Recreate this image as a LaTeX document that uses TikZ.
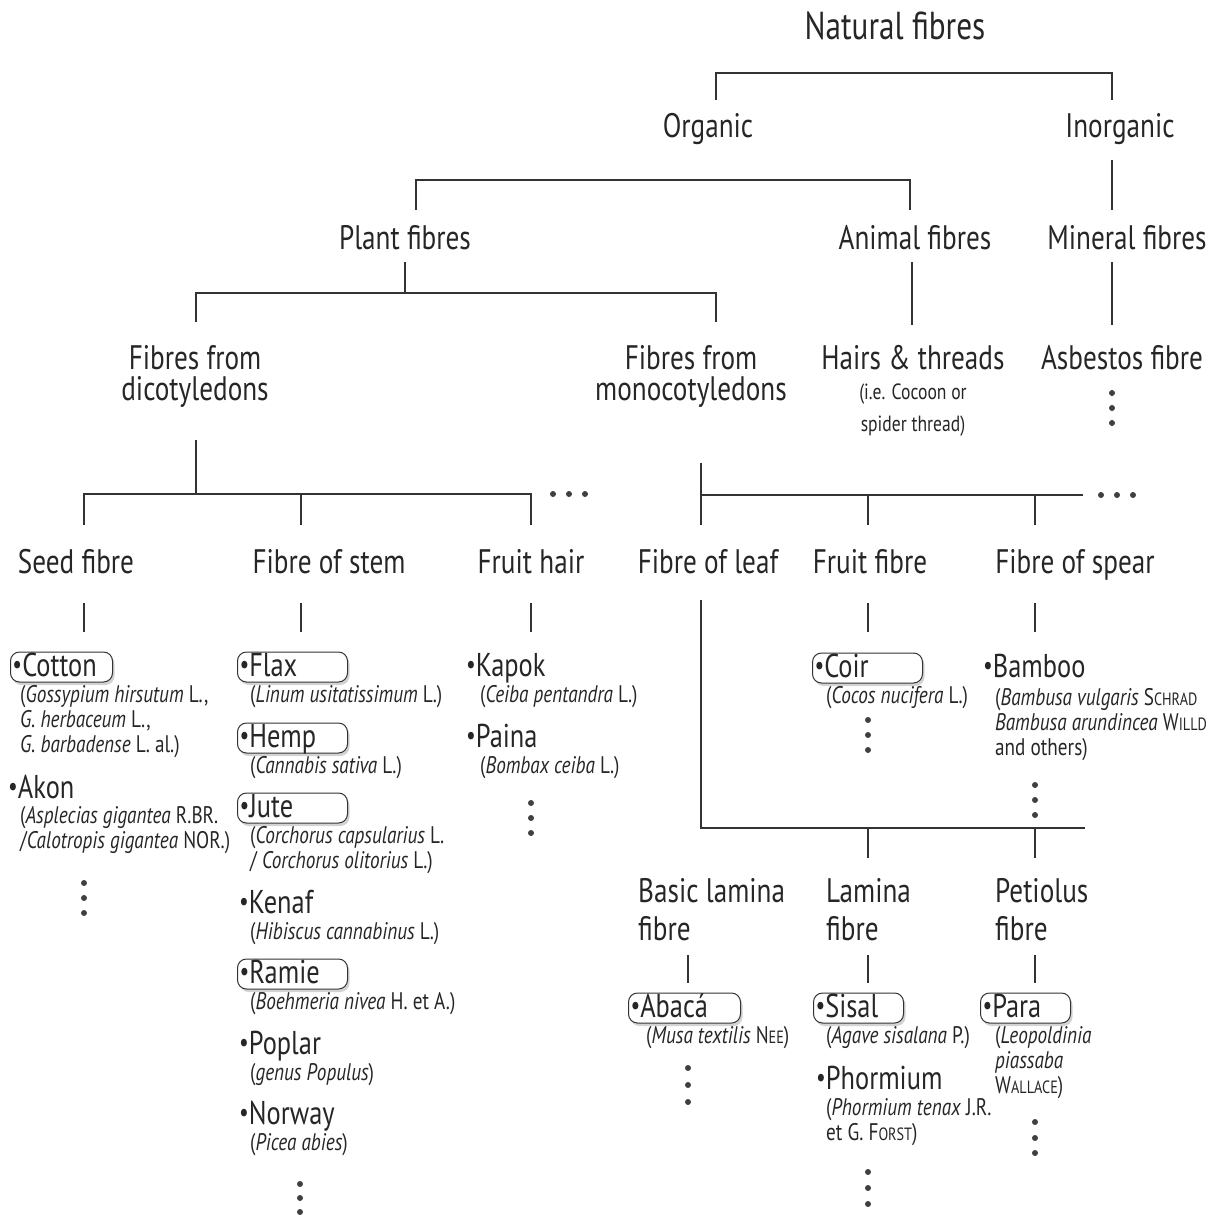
\documentclass[tikz,border=0pt]{standalone}
\usepackage{fontspec}
\setmainfont{PT Sans}[FakeStretch=0.8]
\newfontfamily\capsmall{PT Sans}[FakeStretch=0.8,Scale=0.74]
\usetikzlibrary{shadows}
\newcommand{\fsc}[2]{#1{\capsmall #2}}
\newcommand{\bul}{\raisebox{0.08em}{\fontsize{27}{27}\selectfont\textbullet}}

\begin{document}
\begin{tikzpicture}[x=1pt, y=-1pt,
    branch/.style={line width=2.5pt, draw=black!80},
    lbl/.style={font=\fontsize{34}{31}\selectfont, inner sep=0pt, anchor=base, align=center, text=black!85},
    item/.style={font=\fontsize{33}{36}\selectfont, anchor=west, inner xsep=2pt, inner ysep=1pt,
                 text height=23, text depth=5, text=black!85},
    itembox/.style={item, draw=black!80, line width=1pt, rounded corners=9pt, fill=white, align=left,
                 drop shadow={shadow xshift=2pt, shadow yshift=-3pt, opacity=0.35}},
    spec/.style={font=\fontsize{24}{25}\selectfont, anchor=base west, inner sep=0pt, align=left, text=black!85}]
    \useasboundingbox (0,0) rectangle (1227,1216);

    % upper levels (multi-line nodes sit on the baseline of their last line)
    \node[lbl, font=\fontsize{39}{40}\selectfont] (nat) at (895,39) {Natural fibres};
    \node[lbl] (org) at (708,137) {Organic};
    \node[lbl] (inorg) at (1120,137) {Inorganic};
    \node[lbl] (plant) at (405,249) {Plant fibres};
    \node[lbl] (animal) at (915,249) {Animal fibres};
    \node[lbl] (mineral) at (1127,249) {Mineral fibres};
    \node[lbl] (dicot) at (195,400) {Fibres from\\dicotyledons};
    \node[lbl] (monocot) at (691,400) {Fibres from\\monocotyledons};
    \node[lbl] (hairs) at (913,369) {Hairs \& threads};
    \node[spec, anchor=base, align=center, font=\fontsize{22}{32}\selectfont] (hairs-sp) at (913,431) {(i.e. Cocoon or\\spider thread)};
    \node[lbl] (asbestos) at (1122,369) {Asbestos fibre};

    % fibre groups
    \node[lbl] (seed) at (76,573) {Seed fibre};
    \node[lbl] (stem) at (329,573) {Fibre of stem};
    \node[lbl] (fhair) at (531,573) {Fruit hair};
    \node[lbl] (leaf) at (708,573) {Fibre of leaf};
    \node[lbl] (ffibre) at (870,573) {Fruit fibre};
    \node[lbl] (spear) at (1075,573) {Fibre of spear};
    \node[lbl, anchor=base west, align=left, font=\fontsize{34}{38}\selectfont] (basic) at (638,940) {Basic lamina\\fibre};
    \node[lbl, anchor=base west, align=left, font=\fontsize{34}{38}\selectfont] (lamina) at (826,940) {Lamina\\fibre};
    \node[lbl, anchor=base west, align=left, font=\fontsize{34}{38}\selectfont] (petiolus) at (995,940) {Petiolus\\fibre};

    % seed fibre
    \node[itembox, text width=98] (cotton) at (10,667) {\bul Cotton};
    \node[spec] (cotton-sp) at (20,752) {(\textit{Gossypium hirsutum} L.,\\\textit{G. herbaceum} L.,\\\textit{G. barbadense} L. al.)};
    \node[item] (akon) at (6,789) {\bul Akon};
    \node[spec] (akon-sp) at (20,848) {(\textit{Asplecias gigantea} R.BR.\\/\textit{Calotropis gigantea} NOR.)};

    % fibre of stem
    \node[itembox, text width=106] (flax) at (237,667) {\bul Flax};
    \node[spec] (flax-sp) at (250,702) {(\textit{Linum usitatissimum} L.)};
    \node[itembox, text width=106] (hemp) at (237,738) {\bul Hemp};
    \node[spec] (hemp-sp) at (250,773) {(\textit{Cannabis sativa} L.)};
    \node[itembox, text width=106] (jute) at (237,808) {\bul Jute};
    \node[spec] (jute-sp) at (250,868) {(\textit{Corchorus capsularius} L.\\/ \textit{Corchorus olitorius} L.)};
    \node[item] (kenaf) at (237,904) {\bul Kenaf};
    \node[spec] (kenaf-sp) at (250,939) {(\textit{Hibiscus cannabinus} L.)};
    \node[itembox, text width=106] (ramie) at (237,974) {\bul Ramie};
    \node[spec] (ramie-sp) at (250,1009) {(\textit{Boehmeria nivea} H. et A.)};
    \node[item] (poplar) at (237,1045) {\bul Poplar};
    \node[spec] (poplar-sp) at (250,1080) {(\textit{genus Populus})};
    \node[item] (norway) at (237,1115) {\bul Norway};
    \node[spec] (norway-sp) at (250,1150) {(\textit{Picea abies})};

    % fruit hair
    \node[item] (kapok) at (464,667) {\bul Kapok};
    \node[spec] (kapok-sp) at (480,702) {(\textit{Ceiba pentandra} L.)};
    \node[item] (paina) at (464,738) {\bul Paina};
    \node[spec] (paina-sp) at (480,773) {(\textit{Bombax ceiba} L.)};

    % fruit fibre, fibre of spear
    \node[itembox, text width=106] (coir) at (812,668) {\bul Coir};
    \node[spec] (coir-sp) at (826,703) {(\textit{Cocos nucifera} L.)};
    \node[item] (bamboo) at (981,668) {\bul Bamboo};
    \node[spec] (bamboo-sp) at (995,755) {(\textit{Bambusa vulgaris} \fsc{S}{CHRAD}\\\textit{Bambusa arundincea} \fsc{W}{ILLD}\\and others)};

    % fibre of leaf
    \node[itembox, text width=108] (abaca) at (628,1008) {\bul Abacá};
    \node[spec] (abaca-sp) at (646,1043) {(\textit{Musa textilis} \fsc{N}{EE})};
    \node[itembox, text width=86] (sisal) at (813,1008) {\bul Sisal};
    \node[spec] (sisal-sp) at (826,1043) {(\textit{Agave sisalana} P.)};
    \node[item] (phormium) at (814,1080) {\bul Phormium};
    \node[spec] (phormium-sp) at (826,1140) {(\textit{Phormium tenax} J.R.\\et G. \fsc{F}{ORST})};
    \node[itembox, text width=86] (para) at (980,1008) {\bul Para};
    \node[spec] (para-sp) at (995,1093) {(\textit{Leopoldinia}\\\textit{piassaba}\\\fsc{W}{ALLACE})};

    % bar ends
    \coordinate (org-top) at (716,100);
    \coordinate (inorg-top) at (1112,100);
    \coordinate (inorg-bot) at (1112,160);
    \coordinate (plant-top) at (416,210);
    \coordinate (animal-top) at (910,210);
    \coordinate (mineral-top) at (1112,210);
    \coordinate (plant-bot) at (405,262);
    \coordinate (animal-bot) at (912,262);
    \coordinate (mineral-bot) at (1112,262);
    \coordinate (dicot-top) at (196,322);
    \coordinate (monocot-top) at (716,322);
    \coordinate (hairs-top) at (912,325);
    \coordinate (asbestos-top) at (1112,325);
    \coordinate (dicot-bot) at (196,440);
    \coordinate (monocot-bot) at (701,463);
    \coordinate (seed-top) at (84,525);
    \coordinate (stem-top) at (301,525);
    \coordinate (fhair-top) at (531,525);
    \coordinate (leaf-top) at (701,525);
    \coordinate (ffibre-top) at (868,525);
    \coordinate (spear-top) at (1035,525);
    \coordinate (monocot-end) at (1083,495);
    \coordinate (leaf-bot) at (701,600);
    \coordinate (leaf-end) at (1085,828);
    \coordinate (lamina-top) at (868,858);
    \coordinate (petiolus-top) at (1035,858);

    % connectors
    \draw[branch] (org-top) -- ++(0,-27) -| (inorg-top);
    \draw[branch] (plant-top) -- ++(0,-30) -| (animal-top);
    \draw[branch] (inorg-bot) -- (mineral-top);
    \draw[branch] (plant-bot) -- ++(0,31);
    \draw[branch] (dicot-top) -- ++(0,-29) -| (monocot-top);
    \draw[branch] (animal-bot) -- (hairs-top);
    \draw[branch] (mineral-bot) -- (asbestos-top);
    \draw[branch] (dicot-bot) -- ++(0,54);
    \draw[branch] (seed-top) -- ++(0,-31) -| (fhair-top);
    \draw[branch] (stem-top) -- ++(0,-31);
    \draw[branch] (monocot-bot) -- (leaf-top);
    \draw[branch] (monocot-bot |- monocot-end) -- (monocot-end);
    \draw[branch] (ffibre-top) -- ++(0,-30);
    \draw[branch] (spear-top) -- ++(0,-30);
    \draw[branch] (leaf-bot) |- (leaf-end);
    \draw[branch] (lamina-top) -- ++(0,-30);
    \draw[branch] (petiolus-top) -- ++(0,-30);
    % short stems to the items
    \foreach \x in {84,301,531,868,1035}
        \draw[branch] (\x,603) -- (\x,632);
    \foreach \x in {688,868,1035}
        \draw[branch] (\x,955) -- (\x,983);

    % continuation dots
    \foreach \x in {553,569,585}
        \fill[black!75] (\x,494) circle (3);
    \foreach \x in {1101,1117,1133}
        \fill[black!75] (\x,495) circle (3);
    \foreach \x/\y in {1112/393,1112/408,1112/423,
                       84/883,84/898,84/913,
                       300/1184,300/1198,300/1212,
                       531/803,531/818,531/833,
                       868/720,868/735,868/750,
                       1035/785,1035/800,1035/815,
                       688/1068,688/1085,688/1102,
                       868/1172,868/1188,868/1204,
                       1035/1122,1035/1138,1035/1153}
        \fill[black!75] (\x,\y) circle (3);
\end{tikzpicture}
\end{document}
